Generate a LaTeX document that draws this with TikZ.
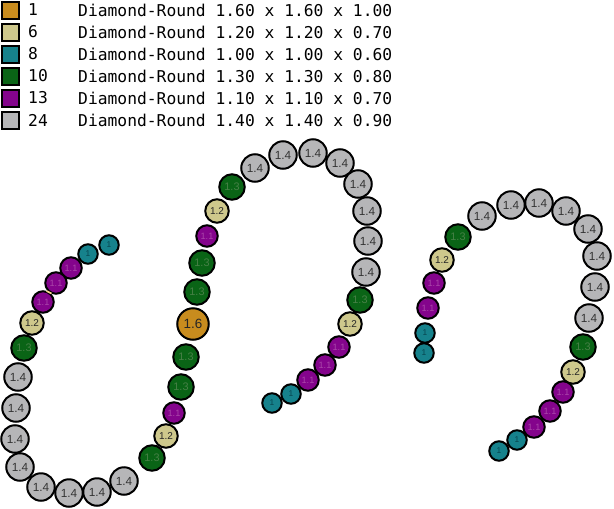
\documentclass[tikz,border=0pt]{standalone}
\usepackage{fontspec}
\setmainfont{Liberation Sans}
\newfontfamily\legendfont{DejaVu Sans Mono}
\usepackage{xcolor}
\usepackage{tikz}
\definecolor{cOrange}{RGB}{200,140,30}
\definecolor{cKhaki}{RGB}{206,200,140}
\definecolor{cTeal}{RGB}{22,130,140}
\definecolor{cGreen}{RGB}{10,100,22}
\definecolor{cPurple}{RGB}{132,4,140}
\definecolor{cGray}{RGB}{182,182,184}
\definecolor{tGreen}{RGB}{70,128,70}
\definecolor{tPurple}{RGB}{170,70,170}
\definecolor{tTeal}{RGB}{8,70,80}
\definecolor{cSliver}{RGB}{250,210,140}

\begin{document}
\begin{tikzpicture}[
          x=1pt, y=-1pt,
          bead/.style={circle, draw=black, line width=2pt, inner sep=0pt},
          orange16/.style={bead, fill=cOrange, minimum size=31.5pt, text=black!85, font=\fontsize{13.4}{13}\selectfont},
          gray14/.style={bead, fill=cGray, minimum size=27.5pt, text=black!80, font=\fontsize{11.8}{12}\selectfont},
          green13/.style={bead, fill=cGreen, minimum size=25.5pt, text=tGreen, font=\fontsize{10.9}{11}\selectfont},
          khaki12/.style={bead, fill=cKhaki, minimum size=23.5pt, text=black!85, font=\fontsize{10}{10}\selectfont},
          purple11/.style={bead, fill=cPurple, minimum size=21.5pt, text=tPurple, font=\fontsize{9.2}{9}\selectfont},
          teal10/.style={bead, fill=cTeal, minimum size=19.5pt, text=tTeal, font=\fontsize{8.4}{8}\selectfont},
          swatch/.style={draw=black, line width=2pt, minimum size=17pt, inner sep=0pt},
          leg/.style={font=\legendfont\fontsize{16.3}{18}\selectfont, anchor=west, inner sep=0pt}
      ]
        \useasboundingbox (0,0) rectangle (614,509);

        % Legend
        \foreach \c/\n/\d [count=\i] in {cOrange/1/{Diamond-Round 1.60 x 1.60 x 1.00},
                                         cKhaki/6/{Diamond-Round 1.20 x 1.20 x 0.70},
                                         cTeal/8/{Diamond-Round 1.00 x 1.00 x 0.60},
                                         cGreen/10/{Diamond-Round 1.30 x 1.30 x 0.80},
                                         cPurple/13/{Diamond-Round 1.10 x 1.10 x 0.70},
                                         cGray/24/{Diamond-Round 1.40 x 1.40 x 0.90}} {
          \node[swatch, fill=\c] (sw\i) at (10.5,{10+22*(\i-1)}) {};
          \node[leg] (cnt\i) at (28,{10+22*(\i-1)}) {\n};
          \node[leg] (desc\i) at (78,{10+22*(\i-1)}) {\d};
        }

        % Left strand
        \foreach \x/\y/\k/\t [count=\i] in {109/245/teal10/1, 88/254/teal10/1,
                   71/268/purple11/1.1, 56/283/purple11/1.1, 43/302/purple11/1.1,
                   32/323/khaki12/1.2, 24/348/green13/1.3,
                   18/377/gray14/1.4, 16/408/gray14/1.4, 15/439/gray14/1.4, 20/467/gray14/1.4,
                   41/487/gray14/1.4, 69/493/gray14/1.4, 97/492/gray14/1.4, 124/481/gray14/1.4}
          \node[\k] (l\i) at (\x,\y) {\t};

        % the little spot between two of the purple beads
        \draw[cSliver, line width=1.6pt] (46.5,291) -- (51.5,293.5);

        % Middle strand
        \foreach \x/\y/\k/\t [count=\i] in {152/458/green13/1.3, 166/436/khaki12/1.2,
                   174/413/purple11/1.1, 181/387/green13/1.3, 186/357/green13/1.3,
                   193/324/orange16/1.6, 197/292/green13/1.3, 202/263/green13/1.3,
                   207/236/purple11/1.1, 217/211/khaki12/1.2, 232/187/green13/1.3,
                   255/168/gray14/1.4, 283/155/gray14/1.4, 313/153/gray14/1.4, 340/163/gray14/1.4,
                   358/184/gray14/1.4, 367/211/gray14/1.4, 368/241/gray14/1.4, 366/272/gray14/1.4,
                   360/300/green13/1.3, 350/324/khaki12/1.2,
                   339/347/purple11/1.1, 325/365/purple11/1.1, 308/380/purple11/1.1,
                   291/394/teal10/1, 272/403/teal10/1}
          \node[\k] (m\i) at (\x,\y) {\t};

        % Right strand
        \foreach \x/\y/\k/\t [count=\i] in {424/353/teal10/1, 425/333/teal10/1,
                   428/308/purple11/1.1, 434/283/purple11/1.1,
                   442/260/khaki12/1.2, 458/237/green13/1.3,
                   482/216/gray14/1.4, 511/205/gray14/1.4, 539/203/gray14/1.4, 566/211/gray14/1.4,
                   588/229/gray14/1.4, 597/256/gray14/1.4, 595/287/gray14/1.4, 589/318/gray14/1.4,
                   583/347/green13/1.3, 573/372/khaki12/1.2,
                   563/392/purple11/1.1, 550/411/purple11/1.1, 534/427/purple11/1.1,
                   517/440/teal10/1, 499/451/teal10/1}
          \node[\k] (r\i) at (\x,\y) {\t};
      \end{tikzpicture}
\end{document}
